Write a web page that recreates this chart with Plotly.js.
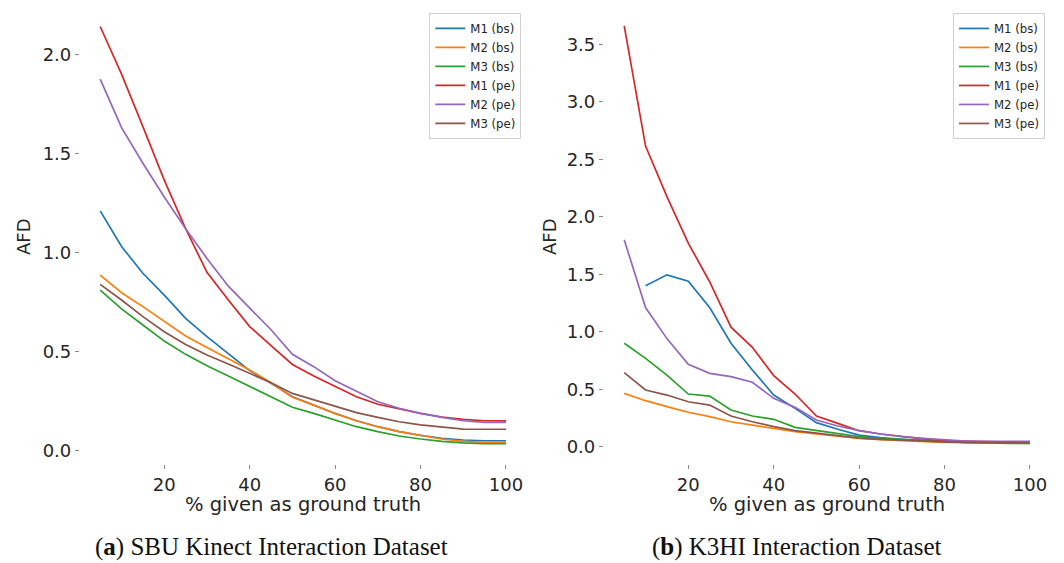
<!DOCTYPE html>
<html>
<head>
<meta charset="utf-8">
<script src="https://cdn.plot.ly/plotly-3.0.1.min.js"></script>
<style>
  html, body { margin: 0; padding: 0; background: #fff; }
  #chart { width: 1064px; height: 563px; }
</style>
</head>
<body>
<div id="chart"></div>
<script>
// Percentage of each sequence given as ground truth
const pct = [5, 10, 15, 20, 25, 30, 35, 40, 45, 50, 55, 60, 65, 70, 75, 80, 85, 90, 95, 100];

const seriesNames = ["M1 (bs)", "M2 (bs)", "M3 (bs)", "M1 (pe)", "M2 (pe)", "M3 (pe)"];
const seriesColors = ["#1f77b4", "#ff7f0e", "#2ca02c", "#d62728", "#9467bd", "#8c564b"];

// (a) SBU Kinect Interaction Dataset — AFD
const sbuM1bs = [1.21, 1.03, 0.895, 0.785, 0.668, 0.575, 0.49, 0.404, 0.34, 0.272, 0.23, 0.188, 0.151, 0.121, 0.096, 0.077, 0.062, 0.054, 0.05, 0.05];
const sbuM2bs = [0.886, 0.797, 0.727, 0.651, 0.579, 0.521, 0.466, 0.407, 0.343, 0.269, 0.23, 0.188, 0.151, 0.121, 0.096, 0.077, 0.059, 0.047, 0.042, 0.042];
const sbuM3bs = [0.81, 0.715, 0.634, 0.553, 0.486, 0.429, 0.377, 0.323, 0.272, 0.219, 0.188, 0.155, 0.121, 0.096, 0.074, 0.059, 0.047, 0.039, 0.035, 0.035];
const sbuM1pe = [2.14, 1.90, 1.635, 1.365, 1.12, 0.90, 0.76, 0.626, 0.53, 0.435, 0.377, 0.323, 0.272, 0.234, 0.21, 0.188, 0.17, 0.158, 0.151, 0.15];
const sbuM2pe = [1.875, 1.63, 1.45, 1.28, 1.12, 0.97, 0.83, 0.72, 0.61, 0.486, 0.424, 0.353, 0.298, 0.247, 0.214, 0.188, 0.168, 0.151, 0.143, 0.143];
const sbuM3pe = [0.839, 0.76, 0.676, 0.60, 0.536, 0.483, 0.437, 0.39, 0.343, 0.289, 0.256, 0.222, 0.192, 0.168, 0.146, 0.13, 0.118, 0.109, 0.108, 0.108];

// (b) K3HI Interaction Dataset — AFD
const k3hiM1bs = [null, 1.40, 1.495, 1.44, 1.21, 0.90, 0.667, 0.449, 0.333, 0.209, 0.151, 0.10, 0.078, 0.064, 0.052, 0.043, 0.038, 0.035, 0.035, 0.035];
const k3hiM2bs = [0.464, 0.40, 0.348, 0.299, 0.261, 0.217, 0.188, 0.159, 0.13, 0.11, 0.09, 0.072, 0.061, 0.052, 0.043, 0.038, 0.035, 0.032, 0.029, 0.029];
const k3hiM3bs = [0.90, 0.768, 0.623, 0.458, 0.44, 0.319, 0.267, 0.238, 0.168, 0.139, 0.11, 0.087, 0.072, 0.061, 0.052, 0.043, 0.038, 0.032, 0.029, 0.029];
const k3hiM1pe = [3.66, 2.615, 2.175, 1.77, 1.435, 1.04, 0.864, 0.618, 0.458, 0.267, 0.203, 0.139, 0.11, 0.087, 0.067, 0.052, 0.046, 0.043, 0.04, 0.04];
const k3hiM2pe = [1.80, 1.21, 0.94, 0.716, 0.638, 0.609, 0.56, 0.42, 0.342, 0.232, 0.18, 0.139, 0.11, 0.087, 0.072, 0.058, 0.049, 0.046, 0.046, 0.046];
const k3hiM3pe = [0.644, 0.493, 0.449, 0.391, 0.362, 0.267, 0.217, 0.174, 0.139, 0.116, 0.093, 0.075, 0.064, 0.055, 0.046, 0.041, 0.038, 0.035, 0.035, 0.035];

const xTicks = [20, 40, 60, 80, 100];
const sbuYTicks = [0, 0.5, 1.0, 1.5, 2.0];
const k3hiYTicks = [0, 0.5, 1.0, 1.5, 2.0, 2.5, 3.0, 3.5];

const sbuSeries = [sbuM1bs, sbuM2bs, sbuM3bs, sbuM1pe, sbuM2pe, sbuM3pe];
const k3hiSeries = [k3hiM1bs, k3hiM2bs, k3hiM3bs, k3hiM1pe, k3hiM2pe, k3hiM3pe];

const traces = [];
sbuSeries.forEach((ys, i) => {
  traces.push({
    x: pct, y: ys, name: seriesNames[i], type: "scatter", mode: "lines",
    line: { color: seriesColors[i], width: 1.7 },
    xaxis: "x", yaxis: "y", legend: "legend"
  });
});
k3hiSeries.forEach((ys, i) => {
  traces.push({
    x: pct, y: ys, name: seriesNames[i], type: "scatter", mode: "lines",
    line: { color: seriesColors[i], width: 1.7 },
    xaxis: "x2", yaxis: "y2", legend: "legend2", connectgaps: false
  });
});

const font = "DejaVu Sans, sans-serif";
const tickFont = { family: font, size: 18, color: "#262626" };

function axisBase(extra) {
  return Object.assign({
    showgrid: false, zeroline: false, showline: false,
    ticks: "outside", ticklen: 4, tickwidth: 1, tickcolor: "#8a8a8a",
    tickfont: tickFont, fixedrange: true
  }, extra);
}

const legendBase = {
  font: { family: font, size: 11.7, color: "#262626" },
  bgcolor: "rgba(255,255,255,0.9)",
  bordercolor: "#d0d0d0", borderwidth: 1,
  xanchor: "left", yanchor: "top", y: 0.977
};

function label(text, px, py, extra) {
  return Object.assign({
    text: text, xref: "paper", yref: "paper", x: px / 1064, y: 1 - py / 563,
    xanchor: "center", yanchor: "middle", showarrow: false,
    font: { family: font, size: 18, color: "#262626" }
  }, extra || {});
}

const titleFont = { family: font, size: 19.5, color: "#262626" };
const captionFont = { family: "Liberation Serif, serif", size: 25, color: "#111" };

const layout = {
  width: 1064, height: 563,
  margin: { l: 0, r: 0, t: 0, b: 0 },
  paper_bgcolor: "#ffffff", plot_bgcolor: "#ffffff",
  showlegend: true,
  xaxis: axisBase({ domain: [0.0751, 0.4946], range: [0.25, 104.75], tickvals: xTicks, anchor: "y" }),
  yaxis: axisBase({ domain: [0.175, 0.98], range: [-0.0696, 2.217], tickvals: sbuYTicks, tickformat: ".1f", anchor: "x" }),
  xaxis2: axisBase({ domain: [0.5676, 0.9871], range: [0.25, 104.75], tickvals: xTicks, anchor: "y2" }),
  yaxis2: axisBase({ domain: [0.175, 0.98], range: [-0.155, 3.788], tickvals: k3hiYTicks, tickformat: ".1f", anchor: "x2" }),
  legend: Object.assign({}, legendBase, { x: 0.4035 }),
  legend2: Object.assign({}, legendBase, { x: 0.8957 }),
  annotations: [
    label("AFD", 23, 237, { textangle: -90 }),
    label("AFD", 549, 237, { textangle: -90 }),
    label("% given as ground truth", 302.5, 504, { font: titleFont }),
    label("% given as ground truth", 827, 504, { font: titleFont }),
    label("(<b>a</b>) SBU Kinect Interaction Dataset", 271, 547, { font: captionFont }),
    label("(<b>b</b>) K3HI Interaction Dataset", 797, 547, { font: captionFont })
  ]
};

Plotly.newPlot("chart", traces, layout, { staticPlot: true, displayModeBar: false });
</script>
</body>
</html>
